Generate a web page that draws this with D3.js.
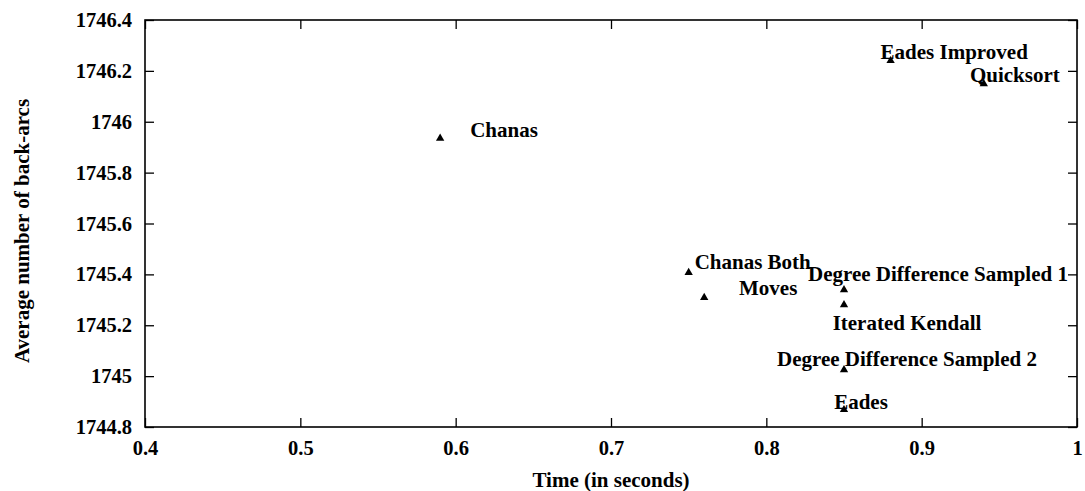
<!DOCTYPE html>
<html>
<head>
<meta charset="utf-8">
<script src="https://cdn.jsdelivr.net/npm/d3@7"></script>
<style>
  html, body { margin: 0; padding: 0; background: #fff; }
  svg { display: block; }
  text { font-family: "Liberation Serif", "Times New Roman", serif; font-weight: bold; fill: #000; }
</style>
</head>
<body>
<svg id="chart" width="1085" height="491"></svg>
<script>
// ---- data ----
const names = ["Chanas", "Chanas Both", "Moves", "Degree Difference Sampled 1", "Iterated Kendall",
               "Degree Difference Sampled 2", "Eades", "Eades Improved", "Quicksort"];
const times = [0.59, 0.75, 0.76, 0.85, 0.85, 0.85, 0.85, 0.88, 0.94];
const backArcs = [1745.935, 1745.407, 1745.309, 1745.339, 1745.28, 1745.025, 1744.868, 1746.24, 1746.149];
const xTicks = [0.4, 0.5, 0.6, 0.7, 0.8, 0.9, 1];
const yTicks = [1744.8, 1745, 1745.2, 1745.4, 1745.6, 1745.8, 1746, 1746.2, 1746.4];
const xTitle = "Time (in seconds)";
const yTitle = "Average number of back-arcs";

// ---- layout ----
const pL = 145, pR = 1077, pT = 20, pB = 427;
const svg = d3.select("#chart");
const x = d3.scaleLinear().domain([0.4, 1]).range([pL, pR]);
const y = d3.scaleLinear().domain([1744.8, 1746.4]).range([pB, pT]);
const tickLen = 9;
const fmt = d => String(+d.toFixed(1));

// inward ticks on all four sides
const axB = d3.axisBottom(x).tickValues(xTicks).tickSize(-tickLen).tickFormat(fmt).tickPadding(13);
const axT = d3.axisTop(x).tickValues(xTicks).tickSize(-tickLen).tickFormat("");
const axL = d3.axisLeft(y).tickValues(yTicks).tickSize(-tickLen).tickFormat(fmt).tickPadding(13);
const axR = d3.axisRight(y).tickValues(yTicks).tickSize(-tickLen).tickFormat("");

function style(g) {
  g.select(".domain").remove();
  g.selectAll(".tick line").attr("stroke", "#000").attr("stroke-width", 1.3);
  g.selectAll(".tick text").style("font-size", "20.5px").attr("fill", "#000");
}
svg.append("g").attr("transform", `translate(0,${pB})`).call(axB).call(style);
svg.append("g").attr("transform", `translate(0,${pT})`).call(axT).call(style);
svg.append("g").attr("transform", `translate(${pL},0)`).call(axL).call(style);
svg.append("g").attr("transform", `translate(${pR},0)`).call(axR).call(style);

// frame
svg.append("rect")
  .attr("x", pL).attr("y", pT)
  .attr("width", pR - pL).attr("height", pB - pT)
  .attr("fill", "none").attr("stroke", "#000").attr("stroke-width", 1.6);

// axis titles
svg.append("text").attr("x", (pL + pR) / 2).attr("y", 487)
  .attr("text-anchor", "middle").style("font-size", "21px").text(xTitle);
svg.append("text")
  .attr("transform", `translate(29,231) rotate(-90)`)
  .attr("text-anchor", "middle").style("font-size", "21px").text(yTitle);

// points
const pts = names.map((n, i) => ({ name: n, t: times[i], v: backArcs[i] }));
svg.append("g").selectAll("path").data(pts).join("path")
  .attr("d", d3.symbol(d3.symbolTriangle, 30))
  .attr("transform", d => `translate(${x(d.t)},${y(d.v)})`)
  .attr("fill", "#000");

// label placement (pixel offsets from the point)
const labelPlace = {
  "Chanas": { dx: 30, dy: -1, anchor: "start" },
  "Chanas Both": { dx: 6, dy: -4, anchor: "start" },
  "Moves": { dx: 64, dy: -3, anchor: "middle" },
  "Degree Difference Sampled 1": { dx: 94, dy: -9, anchor: "middle" },
  "Iterated Kendall": { dx: 63, dy: 25, anchor: "middle" },
  "Degree Difference Sampled 2": { dx: 63, dy: -4, anchor: "middle" },
  "Eades": { dx: 17, dy: -1, anchor: "middle" },
  "Eades Improved": { dx: -10, dy: -2, anchor: "start" },
  "Quicksort": { dx: 31, dy: -2, anchor: "middle" }
};
svg.append("g").selectAll("text").data(pts).join("text")
  .attr("x", d => x(d.t) + labelPlace[d.name].dx)
  .attr("y", d => y(d.v) + labelPlace[d.name].dy)
  .attr("text-anchor", d => labelPlace[d.name].anchor)
  .style("font-size", "21px")
  .text(d => d.name);
</script>
</body>
</html>
